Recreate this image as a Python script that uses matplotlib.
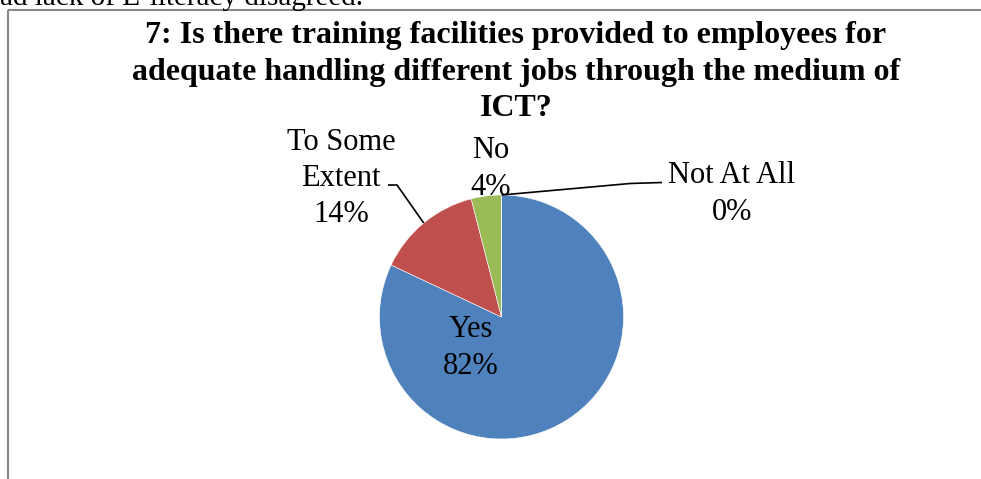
import numpy as np
import matplotlib
matplotlib.use('Agg')
import matplotlib.pyplot as plt
from matplotlib.patches import Rectangle

#------------------------------------------------------------------------------
# survey answers for question 7

categories = ['Yes', 'To Some Extent', 'No', 'Not At All']
label_text = ['Yes', 'To Some\nExtent', 'No', 'Not At All']
shares     = [82, 14, 4, 0]
colors     = ['#4F81BD', '#C0504D', '#9BBB59', '#8064A2']

title = ('7: Is there training facilities provided to employees for\n'
         'adequate handling different jobs through the medium of\n'
         'ICT?')

# tail of the paragraph above the chart on the page
page_text = 'ad lack of E-literacy disagreed.'

#------------------------------------------------------------------------------
# canvas in pixel units, y pointing down

W, H = 981, 479

plt.rcParams['font.family'] = ['Liberation Serif', 'DejaVu Serif']

fig = plt.figure(figsize=(W/100, H/100), dpi=100)
ax = fig.add_axes([0, 0, 1, 1])

centre = (501.5, 317.0)
radius = 122.0

# startangle/counterclock are flipped because the y axis is inverted
wedges, _ = ax.pie(shares, colors=colors, startangle=-90, counterclock=True,
                   center=centre, radius=radius,
                   wedgeprops=dict(edgecolor='white', linewidth=0.4))

ax.set_xlim(0, W)
ax.set_ylim(H, 0)
ax.set_aspect('auto')
ax.axis('off')

# chart frame running off the page edge
ax.add_patch(Rectangle((8, 10), 3000, 3000, fill=False,
                       edgecolor='#888888', linewidth=1.5))

ax.text(0, 5, page_text, fontsize=21, ha='left', va='baseline')

ax.text(516, 72, title, fontsize=23, fontweight='bold', ha='center',
        va='center', linespacing=1.32)

#------------------------------------------------------------------------------
# data labels

def pct(i):
    return f'{label_text[i]}\n{shares[i]}%'

label_pos = [(471, 348), (341, 178.5), (491, 169), (732, 194)]

for i in range(len(categories)):
    ax.text(label_pos[i][0], label_pos[i][1], pct(i), fontsize=22,
            ha='center', va='center', linespacing=1.32)

def edge_point(w):
    t = np.deg2rad(0.5*(w.theta1 + w.theta2))
    return centre[0] + radius*np.cos(t), centre[1] + radius*np.sin(t)

# leader for "To Some Extent"
px, py = edge_point(wedges[1])
ax.plot([388, 397, px], [185, 185, py], color='black', lw=1.2,
        solid_capstyle='butt')

# leader for "Not At All"
px, py = edge_point(wedges[3])
ax.plot([px, 630, 662], [py, 183.5, 182.5], color='black', lw=1.2,
        solid_capstyle='butt')

fig.savefig('out.png', dpi=100)
